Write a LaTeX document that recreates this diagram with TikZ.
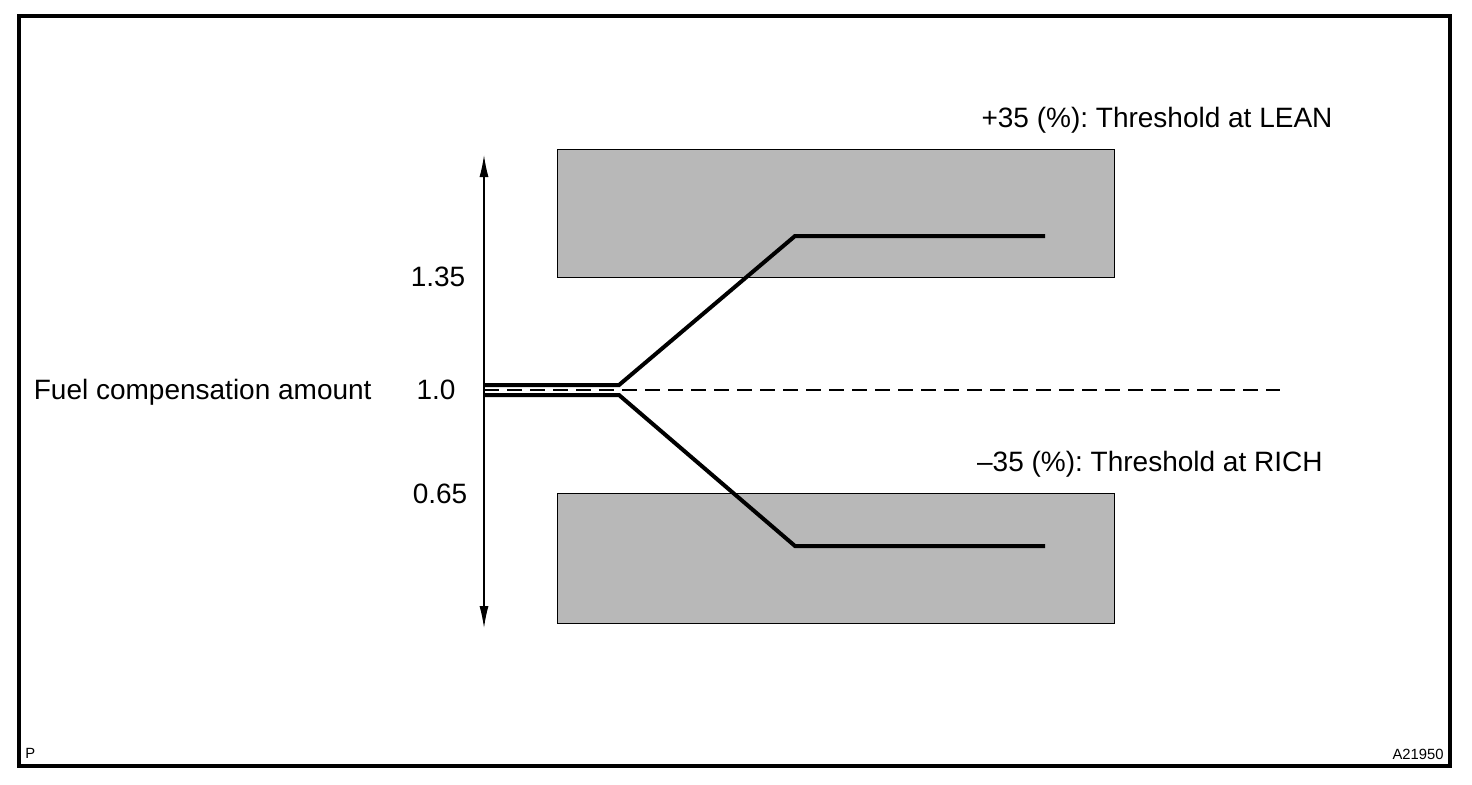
\documentclass[tikz,border=0pt]{standalone}
\usepackage{fontspec}
\setmainfont{Liberation Sans}
\usetikzlibrary{arrows.meta}
\begin{document}
\frenchspacing
\begin{tikzpicture}[x=0.5pt,y=-0.5pt,
  lbl/.style={font=\fontsize{14pt}{16pt}\selectfont, inner sep=0pt},
  small/.style={font=\fontsize{7.4pt}{9pt}\selectfont, inner sep=0pt},
  zone/.style={draw=black, line width=0.6pt, fill=black!28},
  curve/.style={line width=2pt, line join=miter},
  axis/.style={line width=0.6pt, {Latex[length=11pt,width=4.5pt]}-{Latex[length=11pt,width=4.5pt]}},
  ref/.style={line width=1.1pt, dash pattern=on 7.5pt off 4pt}]
\useasboundingbox (0,0) rectangle (1472,784);
\draw[line width=2pt] (19,16) rectangle (1450,766);
% shaded threshold zones
\node[zone, minimum width=278.5pt, minimum height=64pt, inner sep=0pt, anchor=north west] (lean) at (557,149) {};
\node[zone, minimum width=278.5pt, minimum height=65pt, inner sep=0pt, anchor=north west] (rich) at (557,493) {};
% axis
\coordinate (atop) at (484,155);
\coordinate (abot) at (484,628);
\draw[axis] (atop) -- (abot);
% reference dashed line
\coordinate (d0) at (484,390);
\coordinate (d1) at (1280,390);
\draw[ref] (d0) -- (d1);
% upper curve
\coordinate (u0) at (484,385);
\coordinate (u1) at (619,385);
\coordinate (u2) at (795,236);
\coordinate (u3) at (1045,236);
\draw[curve] (u0) -- (u1) -- (u2) -- (u3);
% lower curve
\coordinate (l0) at (484,395);
\coordinate (l1) at (619,395);
\coordinate (l2) at (795,546);
\coordinate (l3) at (1045,546);
\draw[curve] (l0) -- (l1) -- (l2) -- (l3);
% labels
\node[lbl, anchor=mid] (tlean) at (1157,122) {+35 (\%): Threshold at LEAN};
\node[lbl, anchor=mid east] (trich) at (1323,466) {--35 (\%): Threshold at RICH};
\node[lbl, anchor=mid] (v135) at (438,281) {1.35};
\node[lbl, anchor=mid] (v10) at (436,394) {1.0};
\node[lbl, anchor=mid] (v065) at (440,498) {0.65};
\node[lbl, anchor=mid east] (fca) at (372,394) {Fuel compensation amount};
\node[small, anchor=mid west] (p) at (25,753) {P};
\node[small, anchor=mid east] (code) at (1444,754) {A21950};
\end{tikzpicture}
\end{document}
